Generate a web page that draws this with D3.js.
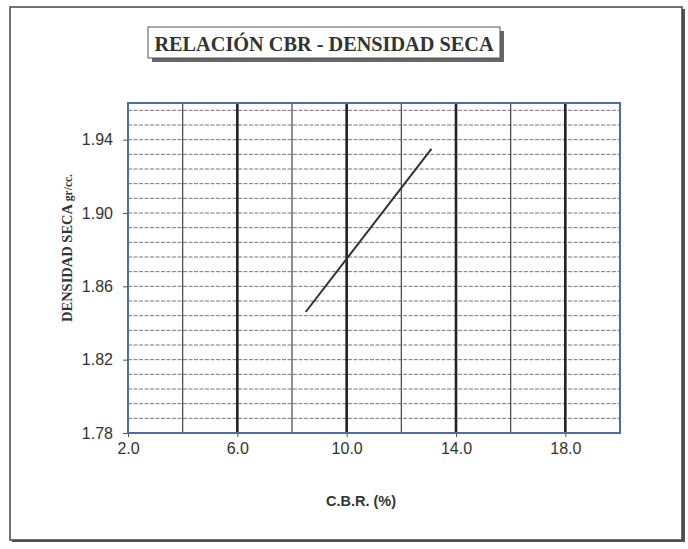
<!DOCTYPE html>
<html><head><meta charset="utf-8">
<script src="https://cdn.jsdelivr.net/npm/d3@7"></script>
<style>body{margin:0;background:#fff}svg{display:block}</style>
</head><body>
<svg id="c" width="688" height="549"></svg>
<script>
const title = "RELACIÓN CBR - DENSIDAD SECA";
const xLabel = "C.B.R. (%)";
const yLabelMain = "DENSIDAD SECA ";
const yLabelUnit = "gr/cc.";
const xTicks = [2, 6, 10, 14, 18];
const xMinor = [4, 8, 12, 16];
const yTicks = [1.78, 1.82, 1.86, 1.90, 1.94];
const cbr = [8.5, 13.1];
const density = [1.846, 1.935];

const svg = d3.select("#c");
const m = {l:128, r:620, t:103, b:433};
const x = d3.scaleLinear().domain([2, 20]).range([m.l, m.r]);
const y = d3.scaleLinear().domain([1.78, 1.96]).range([m.b, m.t]);

// outer frame with shadow
svg.append("rect").attr("x",12).attr("y",9).attr("width",673).attr("height",533).attr("fill","#555");
svg.append("rect").attr("x",10).attr("y",7).attr("width",672).attr("height",533)
  .attr("fill","#fff").attr("stroke","#444").attr("stroke-width",1.5);

// title box
svg.append("rect").attr("x",152).attr("y",31).attr("width",352).attr("height",31).attr("fill","#666");
svg.append("rect").attr("x",148).attr("y",27).attr("width",352).attr("height",31)
  .attr("fill","#fff").attr("stroke","#555").attr("stroke-width",1);
svg.append("text").attr("x",324).attr("y",51).attr("text-anchor","middle")
  .attr("font-family","Liberation Serif, Times New Roman, serif").attr("font-weight","bold")
  .attr("font-size",20.3).attr("fill","#333").text(title);

// horizontal gridlines every 0.008
const hLines = d3.range(0, 23).map(i => 1.78 + i*0.008).filter(v => v < 1.96);
svg.append("g").selectAll("line").data(hLines).join("line")
  .attr("x1",m.l).attr("x2",m.r).attr("y1",d=>y(d)).attr("y2",d=>y(d))
  .attr("stroke","#777").attr("stroke-width",1).attr("stroke-dasharray","4,1.5");

// vertical minor
svg.append("g").selectAll("line").data(xMinor).join("line")
  .attr("x1",d=>x(d)).attr("x2",d=>x(d)).attr("y1",m.t).attr("y2",m.b)
  .attr("stroke","#444").attr("stroke-width",1.2);
// vertical major
svg.append("g").selectAll("line").data(xTicks.filter(d=>d>2)).join("line")
  .attr("x1",d=>x(d)).attr("x2",d=>x(d)).attr("y1",m.t).attr("y2",m.b)
  .attr("stroke","#222").attr("stroke-width",2.6);

// plot frame
svg.append("rect").attr("x",m.l).attr("y",m.t).attr("width",m.r-m.l).attr("height",m.b-m.t)
  .attr("fill","none").attr("stroke","#4f6fa3").attr("stroke-width",2);

// axes
const yAxis = svg.append("g").attr("transform",`translate(${m.l},0)`)
  .call(d3.axisLeft(y).tickValues(yTicks).tickFormat(d3.format(".2f")).tickSize(5).tickPadding(10));
const xAxis = svg.append("g").attr("transform",`translate(0,${m.b})`)
  .call(d3.axisBottom(x).tickValues(xTicks).tickFormat(d3.format(".1f")).tickSize(4).tickPadding(6));
[yAxis, xAxis].forEach(a => {
  a.select(".domain").remove();
  a.selectAll(".tick line").attr("stroke","#555");
  a.selectAll("text").attr("fill","#333")
    .style("font-size","16px").style("font-family","'Liberation Sans', Arial, sans-serif");
});

// data line
const line = d3.line().x((d,i)=>x(cbr[i])).y(d=>y(d));
svg.append("path").datum(density).attr("d",line).attr("fill","none")
  .attr("stroke","#333").attr("stroke-width",2);

// axis labels
svg.append("text").attr("x",361).attr("y",506).attr("text-anchor","middle")
  .attr("font-family","Liberation Sans, Arial, sans-serif").attr("font-weight","bold")
  .attr("font-size",14.5).attr("fill","#333").text(xLabel);
const yl = svg.append("text").attr("transform","translate(72,248) rotate(-90)").attr("text-anchor","middle")
  .attr("font-family","Liberation Serif, Times New Roman, serif").attr("font-weight","bold")
  .attr("fill","#333");
yl.append("tspan").attr("font-size",14.5).text(yLabelMain);
yl.append("tspan").attr("font-size",11.5).text(yLabelUnit);
</script>
</body></html>
